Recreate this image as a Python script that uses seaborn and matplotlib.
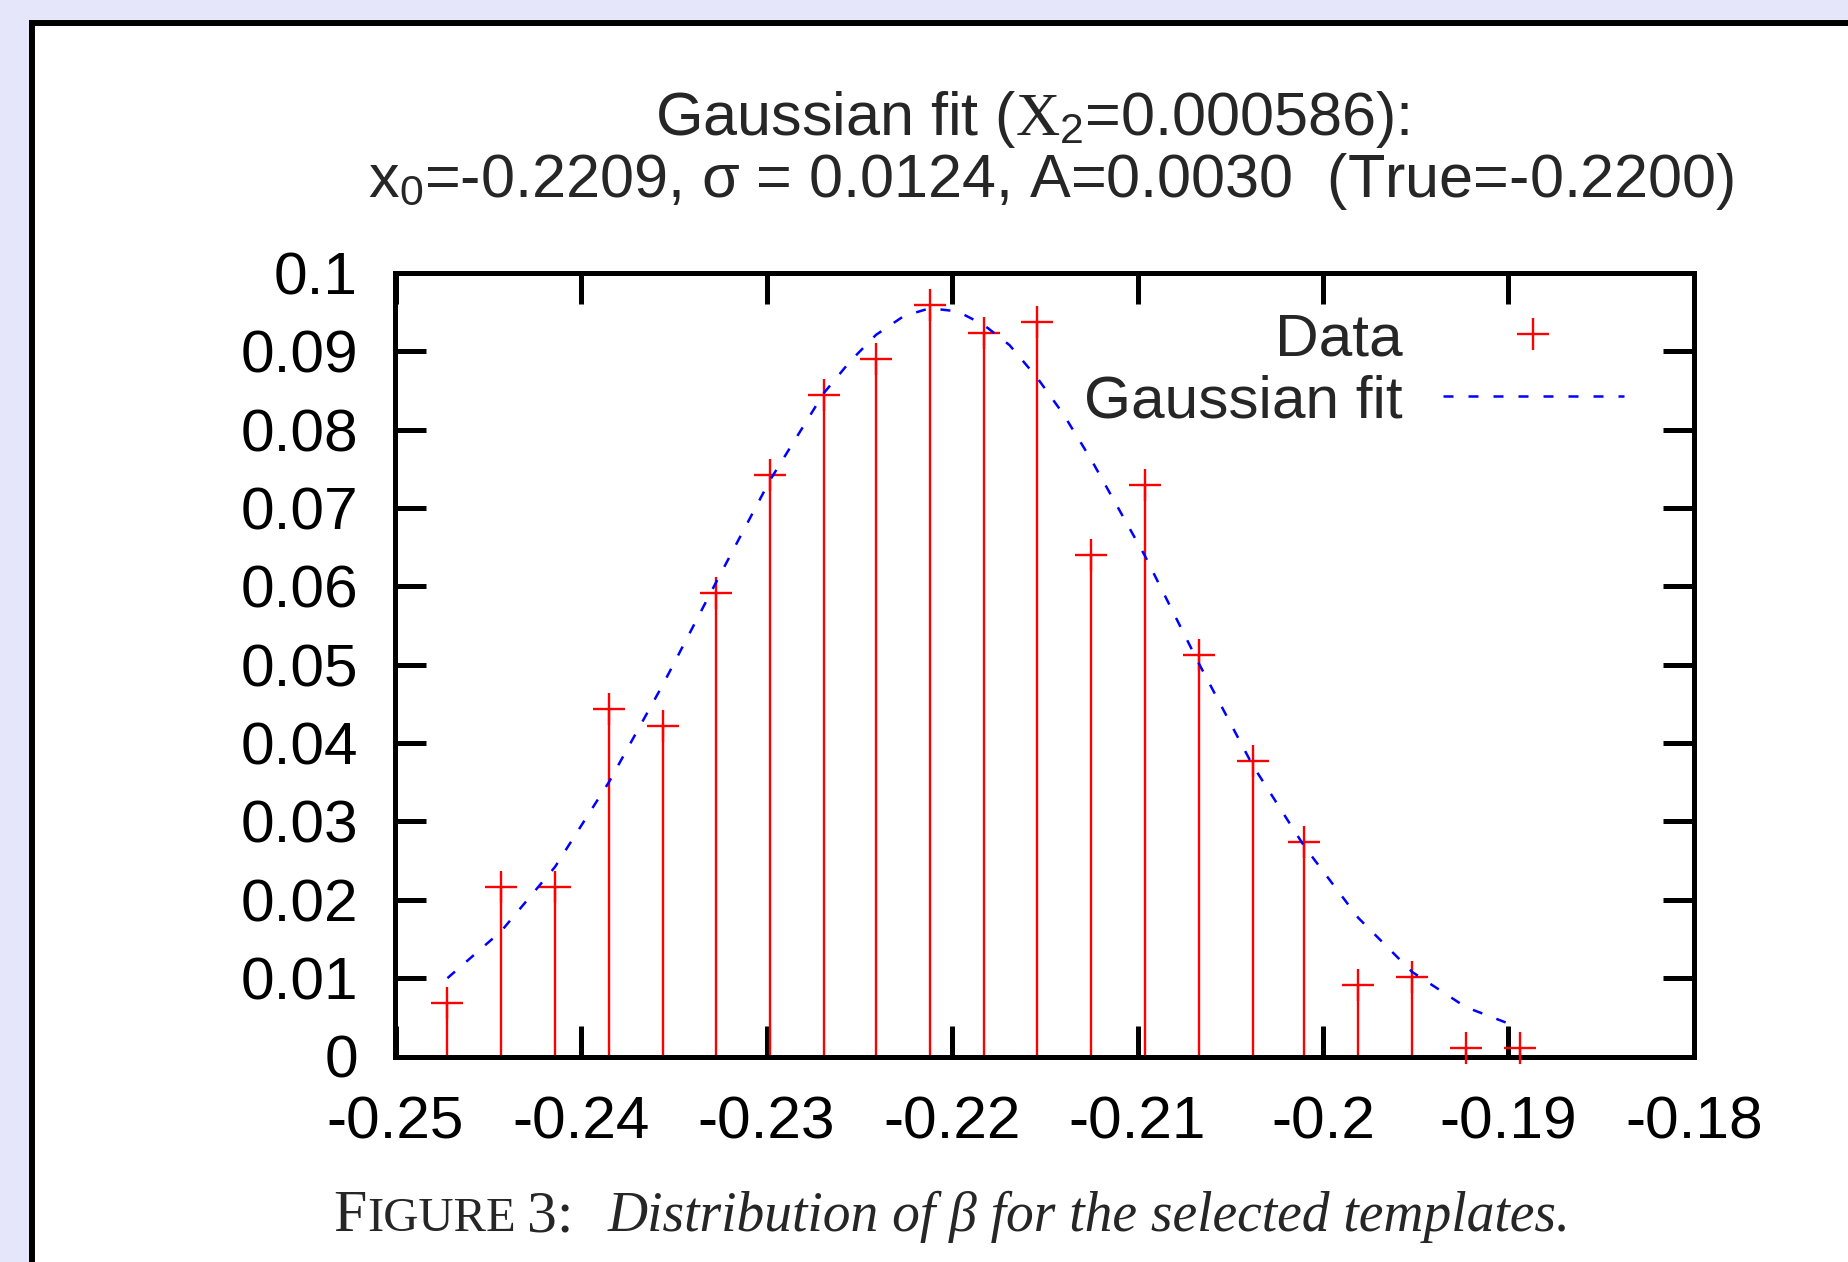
import numpy as np
import pandas as pd
import matplotlib
matplotlib.use("Agg")
import matplotlib.pyplot as plt
from matplotlib.patches import Rectangle
import seaborn as sns

# Values
beta = [-0.2472, -0.2443, -0.2414, -0.2385, -0.2356, -0.2327, -0.2298,
        -0.2269, -0.2241, -0.2212, -0.2183, -0.2154, -0.2125, -0.2096,
        -0.2067, -0.2038, -0.2010, -0.1981, -0.1952, -0.1923, -0.1894]
frac = [0.0068, 0.0216, 0.0216, 0.0444, 0.0422, 0.0592, 0.0742,
        0.0844, 0.0890, 0.0959, 0.0924, 0.0937, 0.0640, 0.0730,
        0.0513, 0.0377, 0.0274, 0.0091, 0.0102, 0.0011, 0.0011]

# points
fit_x = [-0.2472, -0.2443, -0.2414, -0.2385, -0.2356, -0.2327, -0.2298,
         -0.2269, -0.2255, -0.2241, -0.2226, -0.2212, -0.2197, -0.2183,
         -0.2169, -0.2154, -0.2140, -0.2125, -0.2096, -0.2067, -0.2038,
         -0.2010, -0.1981, -0.1952, -0.1923, -0.1901]
fit_y = [0.0100, 0.0160, 0.0242, 0.0350, 0.0474, 0.0606, 0.0736,
         0.0847, 0.0887, 0.0921, 0.0945, 0.0955, 0.0951, 0.0934,
         0.0908, 0.0866, 0.0820, 0.0762, 0.0639, 0.0502, 0.0372,
         0.0268, 0.0177, 0.0108, 0.0063, 0.0043]

xticks = [-0.25, -0.24, -0.23, -0.22, -0.21, -0.20, -0.19, -0.18]
xtick_labels = ['-0.25', '-0.24', '-0.23', '-0.22', '-0.21', '-0.2', '-0.19', '-0.18']
yticks = [0, 0.01, 0.02, 0.03, 0.04, 0.05, 0.06, 0.07, 0.08, 0.09, 0.1]
ytick_labels = ['0', '0.01', '0.02', '0.03', '0.04', '0.05', '0.06',
                '0.07', '0.08', '0.09', '0.1']

sns.set_style('white')
plt.rcParams['font.family'] = ['Liberation Sans', 'DejaVu Sans']
plt.rcParams['mathtext.fontset'] = 'custom'
plt.rcParams['mathtext.rm'] = 'Liberation Serif'
plt.rcParams['mathtext.sf'] = 'Liberation Sans'
plt.rcParams['mathtext.it'] = 'Liberation Serif:italic'

W, H = 1849, 1262
fig = plt.figure(figsize=(W / 100, H / 100), dpi=100, facecolor='#e6e6fa')

# white page box with a thick black edge
fig.add_artist(Rectangle((32 / W, -0.1), 1.2, 1 - 23 / H + 0.1,
                         transform=fig.transFigure, facecolor='white',
                         edgecolor='black', linewidth=4.3, zorder=0))

ax = fig.add_axes([395.5 / W, 1 - 1056.5 / H, (1694 - 395.5) / W, (1056.5 - 273) / H])
ax.set_facecolor('white')

df = pd.DataFrame({'beta': beta, 'frac': frac})
fit = pd.DataFrame({'x': fit_x, 'y': fit_y})

# impulses + crosses
ax.vlines(df['beta'], 0, df['frac'], color='red', lw=1.7, zorder=2)
pts, = ax.plot(df['beta'], df['frac'], ls='none', marker='+', ms=23, mew=1.7,
               color='red', clip_on=False, zorder=3)

# gaussian fit curve
sns.lineplot(data=fit, x='x', y='y', ax=ax, color='blue', lw=1.8,
             sort=False, legend=False, zorder=4)
fitline = ax.lines[-1]
fitline.set_dashes((4, 6))

ax.set_xlim(-0.25, -0.18)
ax.set_ylim(0, 0.1)
ax.set_xticks(xticks, xtick_labels)
ax.set_yticks(yticks, ytick_labels)
ax.minorticks_off()
ax.tick_params(axis='both', which='major', direction='in', length=22, width=3.6,
               color='black', labelcolor='black', labelsize=43.5,
               top=True, right=True, bottom=True, left=True)
ax.tick_params(axis='x', pad=28)
ax.tick_params(axis='y', pad=27)
for s in ax.spines.values():
    s.set_visible(True)
    s.set_linewidth(3.6)
    s.set_color('black')
ax.set_xlabel('')
ax.set_ylabel('')

ax.legend(handles=[pts, fitline], labels=['Data', 'Gaussian fit'],
          loc='upper right', bbox_to_anchor=(1624 / W, 1 - 312 / H),
          bbox_transform=fig.transFigure, frameon=False, markerfirst=False,
          handlelength=3.0, handletextpad=0.67, labelspacing=0.12,
          borderpad=0, borderaxespad=0, fontsize=43.5, numpoints=1)

# title, two lines
fig.text(1032 / W, 1 - 135 / H, r'Gaussian fit ($\mathrm{X}_{\mathsf{2}}$=0.000586):',
         ha='center', va='baseline', fontsize=44)
fig.text(1051 / W, 1 - 197 / H,
         r'$\mathsf{x}_{\mathsf{0}}$=-0.2209, σ = 0.0124, A=0.0030  (True=-0.2200)',
         ha='center', va='baseline', fontsize=44)

# caption in small caps + italic
renderer = fig.canvas.get_renderer()
cap_y = 1 - 1231 / H
serif = ['Liberation Serif', 'DejaVu Serif']
t1 = fig.text(333 / W, cap_y, 'F', family=serif, fontsize=43, va='baseline')
x1 = t1.get_window_extent(renderer).x1
fig.text((x1 + 1) / W, cap_y, 'IGURE', family=serif, fontsize=35, va='baseline')
fig.text(527 / W, cap_y, '3:', family=serif, fontsize=43, va='baseline')
fig.text(608 / W, cap_y, 'Distribution of β for the selected templates.',
         family=serif, style='italic', fontsize=40, va='baseline')

fig.savefig('out.png', dpi=100, facecolor=fig.get_facecolor())
